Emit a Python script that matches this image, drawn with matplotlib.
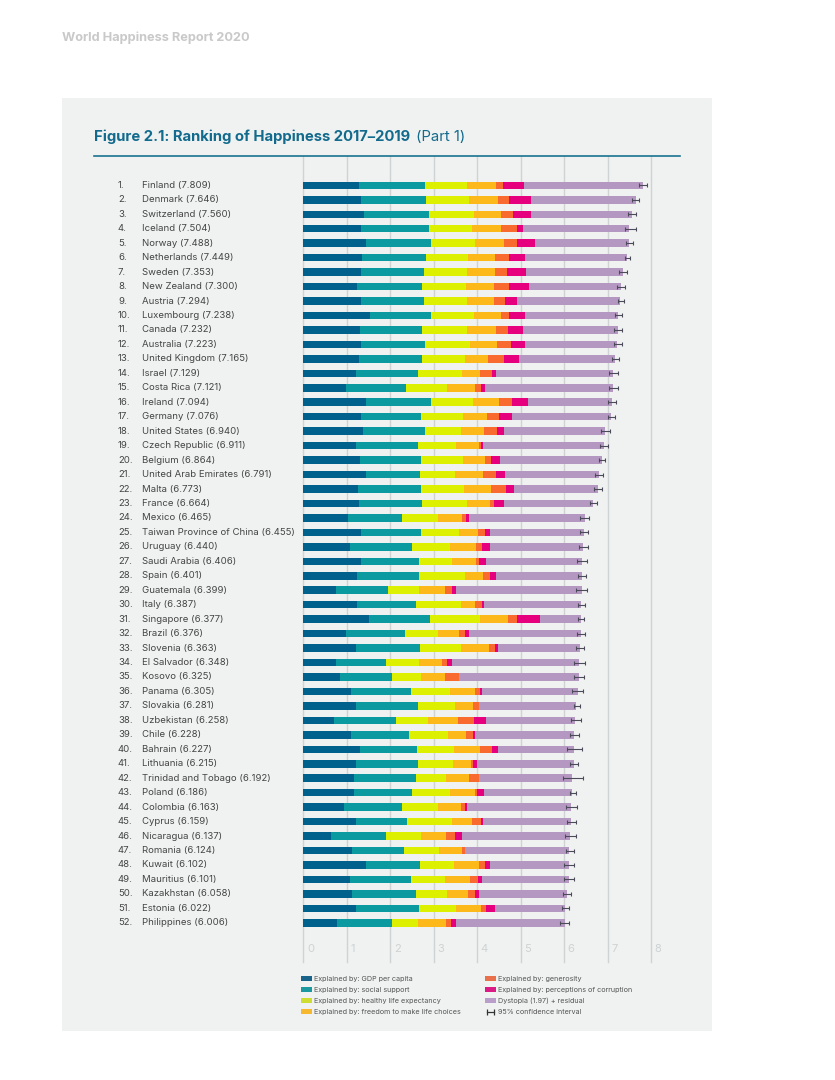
import matplotlib
matplotlib.use("Agg")
import matplotlib.pyplot as plt
from matplotlib.lines import Line2D
from matplotlib.patches import Patch, Rectangle
from matplotlib.transforms import blended_transform_factory

plt.rcParams['font.family'] = ['Inter', 'DejaVu Sans']

paises = ["Finland", "Denmark", "Switzerland", "Iceland", "Norway", "Netherlands", "Sweden", "New Zealand",
          "Austria", "Luxembourg", "Canada", "Australia", "United Kingdom", "Israel", "Costa Rica", "Ireland",
          "Germany", "United States", "Czech Republic", "Belgium", "United Arab Emirates", "Malta", "France",
          "Mexico", "Taiwan Province of China", "Uruguay", "Saudi Arabia", "Spain", "Guatemala", "Italy",
          "Singapore", "Brazil", "Slovenia", "El Salvador", "Kosovo", "Panama", "Slovakia", "Uzbekistan",
          "Chile", "Bahrain", "Lithuania", "Trinidad and Tobago", "Poland", "Colombia", "Cyprus", "Nicaragua",
          "Romania", "Kuwait", "Mauritius", "Kazakhstan", "Estonia", "Philippines"]

scores = [7.809, 7.646, 7.560, 7.504, 7.488, 7.449, 7.353, 7.300, 7.294, 7.238, 7.232, 7.223, 7.165,
          7.129, 7.121, 7.094, 7.076, 6.940, 6.911, 6.864, 6.791, 6.773, 6.664, 6.465, 6.455, 6.440,
          6.406, 6.401, 6.399, 6.387, 6.377, 6.376, 6.363, 6.348, 6.325, 6.305, 6.281, 6.258, 6.228,
          6.227, 6.215, 6.192, 6.186, 6.163, 6.159, 6.137, 6.124, 6.102, 6.101, 6.058, 6.022, 6.006]

gdp = [1.29, 1.33, 1.40, 1.33, 1.43, 1.34, 1.33, 1.24, 1.33, 1.54, 1.30, 1.32, 1.28,
       1.21, 0.99, 1.45, 1.33, 1.38, 1.21, 1.30, 1.43, 1.26, 1.28, 1.03, 1.33, 1.08,
       1.33, 1.23, 0.76, 1.24, 1.52, 0.97, 1.21, 0.76, 0.84, 1.10, 1.20, 0.71, 1.10,
       1.30, 1.20, 1.17, 1.17, 0.94, 1.21, 0.63, 1.12, 1.43, 1.08, 1.12, 1.20, 0.77]
social = [1.50, 1.50, 1.48, 1.55, 1.50, 1.47, 1.44, 1.50, 1.44, 1.40, 1.44, 1.48, 1.46,
          1.42, 1.38, 1.48, 1.37, 1.41, 1.42, 1.40, 1.26, 1.45, 1.46, 1.23, 1.37, 1.43,
          1.32, 1.43, 1.18, 1.36, 1.40, 1.36, 1.47, 1.15, 1.19, 1.38, 1.43, 1.43, 1.33,
          1.32, 1.43, 1.43, 1.33, 1.34, 1.17, 1.27, 1.20, 1.26, 1.40, 1.47, 1.45, 1.26]
salud = [0.97, 0.99, 1.04, 1.00, 1.02, 0.97, 0.99, 1.00, 1.00, 0.99, 1.03, 1.04, 0.98,
         1.02, 0.94, 0.98, 0.98, 0.84, 0.89, 0.97, 0.80, 0.98, 1.03, 0.84, 0.88, 0.87,
         0.77, 1.06, 0.71, 1.03, 1.14, 0.77, 0.94, 0.75, 0.67, 0.89, 0.86, 0.72, 0.90,
         0.84, 0.81, 0.67, 0.87, 0.82, 1.03, 0.81, 0.80, 0.78, 0.77, 0.71, 0.86, 0.61]
libertad = [0.67, 0.66, 0.63, 0.66, 0.66, 0.62, 0.65, 0.65, 0.61, 0.61, 0.65, 0.61, 0.53,
            0.41, 0.64, 0.59, 0.55, 0.53, 0.52, 0.50, 0.65, 0.63, 0.52, 0.56, 0.44, 0.58,
            0.54, 0.42, 0.61, 0.32, 0.64, 0.48, 0.64, 0.53, 0.56, 0.58, 0.42, 0.69, 0.41,
            0.61, 0.42, 0.55, 0.58, 0.52, 0.46, 0.56, 0.54, 0.58, 0.59, 0.49, 0.58, 0.63]
generosidad = [0.16, 0.25, 0.27, 0.37, 0.30, 0.34, 0.28, 0.34, 0.25, 0.19, 0.28, 0.33, 0.37,
               0.28, 0.13, 0.29, 0.26, 0.30, 0.05, 0.15, 0.28, 0.35, 0.10, 0.08, 0.15, 0.14,
               0.08, 0.16, 0.16, 0.17, 0.22, 0.14, 0.14, 0.12, 0.33, 0.11, 0.13, 0.37, 0.16,
               0.28, 0.05, 0.21, 0.05, 0.10, 0.22, 0.21, 0.06, 0.13, 0.18, 0.16, 0.12, 0.12]
corrupcion = [0.48, 0.50, 0.41, 0.15, 0.42, 0.37, 0.44, 0.45, 0.28, 0.36, 0.35, 0.33, 0.33,
              0.09, 0.09, 0.38, 0.31, 0.15, 0.04, 0.21, 0.21, 0.17, 0.23, 0.08, 0.13, 0.19,
              0.16, 0.12, 0.10, 0.03, 0.53, 0.09, 0.08, 0.12, 0.00, 0.05, 0.00, 0.28, 0.05,
              0.12, 0.08, 0.00, 0.15, 0.04, 0.05, 0.17, 0.00, 0.11, 0.09, 0.10, 0.20, 0.12]
distopia = [2.74, 2.42, 2.33, 2.44, 2.16, 2.34, 2.22, 2.12, 2.38, 2.15, 2.18, 2.11, 2.22,
            2.70, 2.95, 1.92, 2.28, 2.33, 2.78, 2.33, 2.16, 1.93, 2.04, 2.65, 2.16, 2.15,
            2.21, 1.98, 2.88, 2.24, 0.93, 2.57, 1.88, 2.92, 2.74, 2.20, 2.24, 2.06, 2.28,
            1.76, 2.23, 2.16, 2.04, 2.40, 2.02, 2.49, 2.40, 1.81, 1.99, 2.01, 1.61, 2.50]

ci_bajo = [7.73, 7.57, 7.48, 7.39, 7.42, 7.39, 7.27, 7.22, 7.23, 7.18, 7.15, 7.14, 7.09,
           7.03, 7.03, 7.01, 7.00, 6.85, 6.83, 6.80, 6.71, 6.69, 6.59, 6.37, 6.37, 6.35,
           6.30, 6.32, 6.28, 6.31, 6.31, 6.30, 6.28, 6.23, 6.22, 6.19, 6.22, 6.15, 6.14,
           6.06, 6.13, 5.97, 6.13, 6.05, 6.06, 6.01, 6.04, 6.00, 5.99, 5.97, 5.95, 5.91]
ci_alto = [7.90, 7.73, 7.65, 7.65, 7.58, 7.52, 7.44, 7.39, 7.38, 7.32, 7.32, 7.32, 7.25,
           7.24, 7.23, 7.19, 7.16, 7.06, 7.00, 6.95, 6.89, 6.86, 6.75, 6.58, 6.55, 6.54,
           6.53, 6.50, 6.53, 6.49, 6.46, 6.47, 6.46, 6.48, 6.45, 6.43, 6.37, 6.38, 6.33,
           6.41, 6.32, 6.44, 6.27, 6.29, 6.27, 6.28, 6.23, 6.23, 6.23, 6.16, 6.10, 6.12]

series = [gdp, social, salud, libertad, generosidad, corrupcion, distopia]
colores = ['#00628c', '#0a9aa0', '#dcf000', '#fdb91a', '#f96a2e', '#e6007e', '#b598c2']
colores_leyenda = ['#17638a', '#1998a0', '#cfdc30', '#f5b82e', '#e8704a', '#dc1a85', '#b89ec8']
etiquetas = ['Explained by: GDP per capita', 'Explained by: social support',
             'Explained by: healthy life expectancy', 'Explained by: freedom to make life choices',
             'Explained by: generosity', 'Explained by: perceptions of corruption',
             'Dystopia (1.97) + residual']
ticks = [0, 1, 2, 3, 4, 5, 6, 7, 8]

W, H = 835, 1080
fig = plt.figure(figsize=(W / 100, H / 100), dpi=100, facecolor='white')
fig.add_artist(Rectangle((62 / W, 1 - 1031 / H), 650 / W, 933 / H, transform=fig.transFigure,
                         facecolor='#f0f2f2', edgecolor='none', zorder=-1))

ax = fig.add_axes([303.4 / W, 1 - 962 / H, 347.7 / W, 806 / H])
ax.patch.set_alpha(0)
for s in ax.spines.values():
    s.set_visible(False)
ax.set_xlim(0, 8)
ax.set_ylim(53.71, -2.03)
ax.set_yticks([])
ax.set_xticks(ticks)
ax.tick_params(length=0, labelbottom=False)
ax.grid(True, axis='x', color='#d0d3d3', lw=1.0, zorder=0, clip_on=False)
ax.set_axisbelow(True)

y = list(range(len(paises)))
izq = [0.0] * len(paises)
for vals, col in zip(series, colores):
    ax.barh(y, vals, left=izq, height=0.52, color=col, linewidth=0, zorder=2)
    izq = [a + b for a, b in zip(izq, vals)]

err = [[s - b for s, b in zip(scores, ci_bajo)], [a - s for s, a in zip(scores, ci_alto)]]
ax.errorbar(scores, y, xerr=err, fmt='none', ecolor='#4b4b5a', elinewidth=0.8, capsize=1.4, capthick=0.8,
            zorder=3, clip_on=False)

# numeros del eje dentro del grafico, a la derecha de cada linea
trans_x = blended_transform_factory(ax.transData, fig.transFigure)
for t in ticks:
    ax.text(t + 0.08, 1 - 949 / H, str(t), transform=trans_x, fontsize=8, color='#cfd2d2', va='center',
            ha='left', clip_on=False)

trans = blended_transform_factory(fig.transFigure, ax.transData)
for i, (p, s) in enumerate(zip(paises, scores)):
    ax.text(118 / W, i, f"{i + 1}.", transform=trans, fontsize=6.9, color='#444444', va='center', clip_on=False)
    ax.text(142 / W, i, f"{p} ({s:.3f})", transform=trans, fontsize=6.9, color='#444444', va='center', clip_on=False)

fig.text(62 / W, 1 - 38 / H, "World Happiness Report 2020", fontsize=9.2, fontweight='bold', color='#c9c9c9', va='center')
fig.text(94 / W, 1 - 137 / H, "Figure 2.1: Ranking of Happiness 2017–2019", fontsize=10.7, fontweight='bold',
         color='#126a8c', va='center')
fig.text(416 / W, 1 - 137 / H, "(Part 1)", fontsize=10.7, color='#126a8c', va='center')
fig.add_artist(Line2D([94 / W, 680 / W], [1 - 155.5 / H, 1 - 155.5 / H], transform=fig.transFigure,
                      color='#1a7390', lw=1.2))

handles = [Patch(facecolor=c, edgecolor='none') for c in colores_leyenda]
handles.append(Line2D([0, 1], [0, 0], color='#333333', lw=0.9, marker='|', markersize=4, markeredgewidth=0.9))
fig.legend(handles, etiquetas + ['95% confidence interval'], ncol=2, frameon=False, fontsize=5.2,
           labelcolor='#555555', loc='upper left', bbox_to_anchor=(301 / W, 1 - 975.5 / H), numpoints=2,
           handlelength=1.5, handleheight=0.7, handletextpad=0.35, labelspacing=0.7, columnspacing=3.3,
           borderpad=0, borderaxespad=0)

fig.savefig('out.png', dpi=100)
